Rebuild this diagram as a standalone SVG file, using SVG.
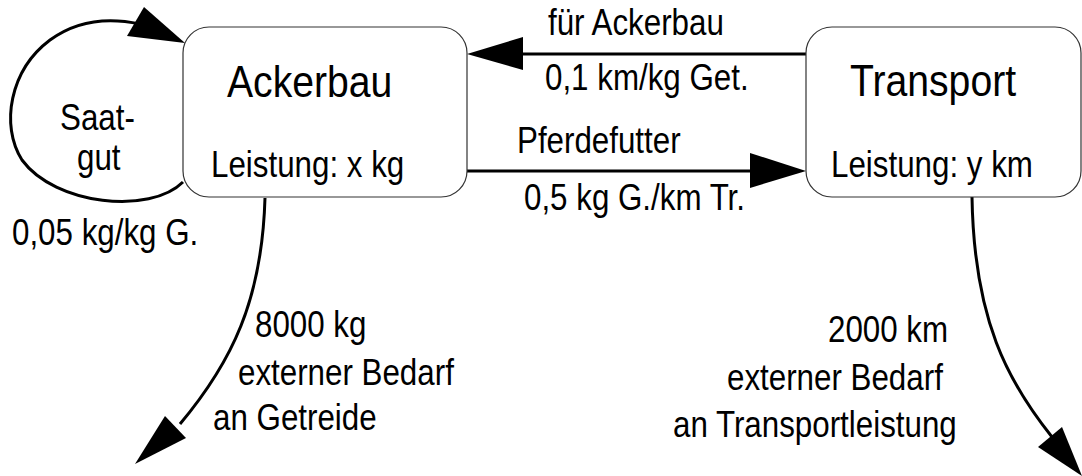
<svg xmlns="http://www.w3.org/2000/svg" width="1082" height="476" viewBox="0 0 1082 476">
<style>
.box{fill:#fff;stroke:#333;stroke-width:1.2}
.t{font-family:"Liberation Sans",Arial,sans-serif;fill:#000}
.title{font-size:44px}
.lab{font-size:36px}
.ln{fill:none;stroke:#000;stroke-width:3}
.ah{fill:#000;stroke:none}
</style>
<rect width="1082" height="476" fill="#fff"/>
<g id="connectors">
  <path class="ln" d="M 183 182 C 150 215, 55 205, 22 160 C 0 125, 10 70, 50 40 C 80 18, 112 18, 140 24"/>
  <polygon class="ah" points="185,43 144,7 127,36"/>
  <line class="ln" x1="806" y1="54" x2="515" y2="54"/>
  <polygon class="ah" points="467,54 523,37 523,70"/>
  <line class="ln" x1="467" y1="171" x2="760" y2="171"/>
  <polygon class="ah" points="806,171 750,153 750,188"/>
  <path class="ln" d="M 265 198 C 262 300, 232 362, 180 424"/>
  <polygon class="ah" points="135,464 165,416 186,438"/>
  <path class="ln" d="M 972 197 C 974 320, 1008 382, 1052 437"/>
  <polygon class="ah" points="1082,476 1038,447 1062,427"/>
</g>
<g id="ackerbau">
  <rect class="box" x="183" y="27" width="284" height="170" rx="26"/>
  <text class="t title" transform="translate(227,97) scale(0.89,1)">Ackerbau</text>
  <text class="t lab" transform="translate(211,177) scale(0.87,1)">Leistung: x kg</text>
</g>
<g id="transport">
  <rect class="box" x="806" y="27" width="275" height="170" rx="26"/>
  <text class="t title" transform="translate(850,96) scale(0.89,1)">Transport</text>
  <text class="t lab" transform="translate(831,177) scale(0.87,1)">Leistung: y km</text>
</g>
<g id="labels">
  <text class="t lab" transform="translate(60,130) scale(0.87,1)">Saat-</text>
  <text class="t lab" transform="translate(77,170) scale(0.87,1)">gut</text>
  <text class="t lab" transform="translate(12,245) scale(0.87,1)">0,05 kg/kg G.</text>
  <text class="t lab" transform="translate(548,35) scale(0.87,1)">für Ackerbau</text>
  <text class="t lab" transform="translate(545,90) scale(0.87,1)">0,1 km/kg Get.</text>
  <text class="t lab" transform="translate(517,153) scale(0.87,1)">Pferdefutter</text>
  <text class="t lab" transform="translate(524,210) scale(0.87,1)">0,5 kg G./km Tr.</text>
  <text class="t lab" transform="translate(255,337) scale(0.87,1)">8000 kg</text>
  <text class="t lab" transform="translate(238,385) scale(0.87,1)">externer Bedarf</text>
  <text class="t lab" transform="translate(213,430) scale(0.87,1)">an Getreide</text>
  <text class="t lab" transform="translate(828,342) scale(0.87,1)">2000 km</text>
  <text class="t lab" transform="translate(727,390) scale(0.87,1)">externer Bedarf</text>
  <text class="t lab" transform="translate(673,437) scale(0.87,1)">an Transportleistung</text>
</g>
</svg>
